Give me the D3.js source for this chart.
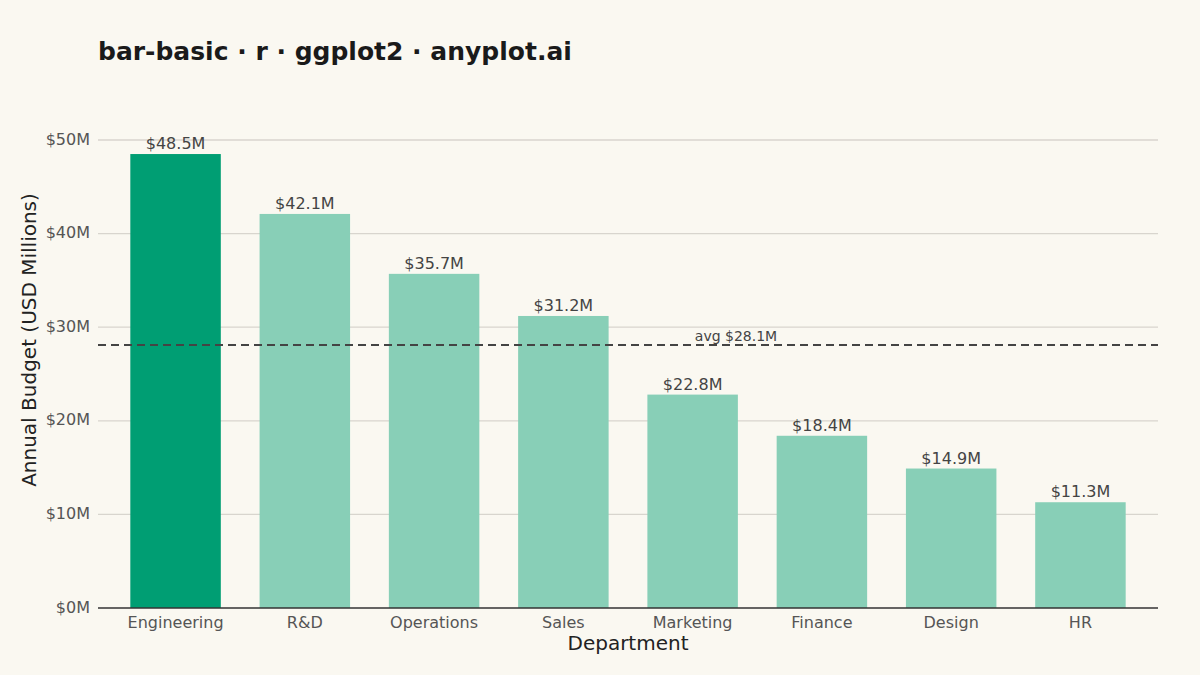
<!DOCTYPE html>
<html>
<head>
<meta charset="utf-8">
<script src="https://cdn.jsdelivr.net/npm/d3@7"></script>
<style>
  body { margin: 0; background: #FAF8F1; }
  svg { font-family: "DejaVu Sans", sans-serif; }
</style>
</head>
<body>
<div id="chart"></div>
<script>
const departments = ["Engineering", "R&D", "Operations", "Sales", "Marketing", "Finance", "Design", "HR"];
const budgets = [48.5, 42.1, 35.7, 31.2, 22.8, 18.4, 14.9, 11.3];
const yTicks = [0, 10, 20, 30, 40, 50];
const avgBudget = 28.1;

const width = 1200, height = 675;
const plotLeft = 98, plotRight = 1158, plotTop = 140, plotBottom = 608;

const svg = d3.select("#chart").append("svg")
  .attr("width", width).attr("height", height)
  .style("background", "#FAF8F1");

const x = d3.scalePoint().domain(departments).range([plotLeft, plotRight]).padding(0.6);
const y = d3.scaleLinear().domain([0, 50]).range([plotBottom, plotTop]);
const barW = x.step() * 0.7;

// gridlines
svg.selectAll(".grid").data(yTicks.filter(d => d > 0)).join("line")
  .attr("x1", plotLeft).attr("x2", plotRight)
  .attr("y1", d => y(d)).attr("y2", d => y(d))
  .attr("stroke", "#D8D5CE").attr("stroke-width", 1.3);

// y tick labels
svg.selectAll(".ytick").data(yTicks).join("text")
  .attr("x", plotLeft - 8).attr("y", d => y(d))
  .attr("text-anchor", "end").attr("dominant-baseline", "middle")
  .attr("font-size", 16).attr("fill", "#555")
  .text(d => `$${d}M`);

// bars
svg.selectAll(".bar").data(budgets).join("rect")
  .attr("x", (d, i) => x(departments[i]) - barW / 2)
  .attr("y", d => y(d))
  .attr("width", barW)
  .attr("height", d => plotBottom - y(d))
  .attr("fill", (d, i) => i === 0 ? "#009E73" : "#88CFB7");

// value labels
svg.selectAll(".val").data(budgets).join("text")
  .attr("x", (d, i) => x(departments[i]))
  .attr("y", d => y(d) - 5)
  .attr("text-anchor", "middle")
  .attr("font-size", 16).attr("fill", "#444")
  .text(d => `$${d.toFixed(1)}M`);

// average line
svg.append("line")
  .attr("x1", plotLeft).attr("x2", plotRight)
  .attr("y1", y(avgBudget)).attr("y2", y(avgBudget))
  .attr("stroke", "#444").attr("stroke-width", 1.8)
  .attr("stroke-dasharray", "8,5");
svg.append("text")
  .attr("x", 736).attr("y", y(avgBudget) - 4)
  .attr("text-anchor", "middle")
  .attr("font-size", 14).attr("fill", "#444")
  .text(`avg $${avgBudget}M`);

// x axis line
svg.append("line")
  .attr("x1", plotLeft).attr("x2", plotRight)
  .attr("y1", plotBottom).attr("y2", plotBottom)
  .attr("stroke", "#333").attr("stroke-width", 1.6);

// x tick labels
svg.selectAll(".xtick").data(departments).join("text")
  .attr("x", d => x(d)).attr("y", plotBottom + 20)
  .attr("text-anchor", "middle")
  .attr("font-size", 16).attr("fill", "#555")
  .text(d => d);

// axis titles
svg.append("text")
  .attr("x", (plotLeft + plotRight) / 2).attr("y", 650)
  .attr("text-anchor", "middle")
  .attr("font-size", 20).attr("fill", "#222")
  .text("Department");
svg.append("text")
  .attr("transform", `translate(36,${(plotTop + plotBottom) / 2 - 34}) rotate(-90)`)
  .attr("text-anchor", "middle")
  .attr("font-size", 20).attr("fill", "#222")
  .text("Annual Budget (USD Millions)");

// title
svg.append("text")
  .attr("x", 98).attr("y", 60)
  .attr("font-size", 25).attr("font-weight", "bold").attr("fill", "#1a1a1a")
  .text("bar-basic · r · ggplot2 · anyplot.ai");
</script>
</body>
</html>
